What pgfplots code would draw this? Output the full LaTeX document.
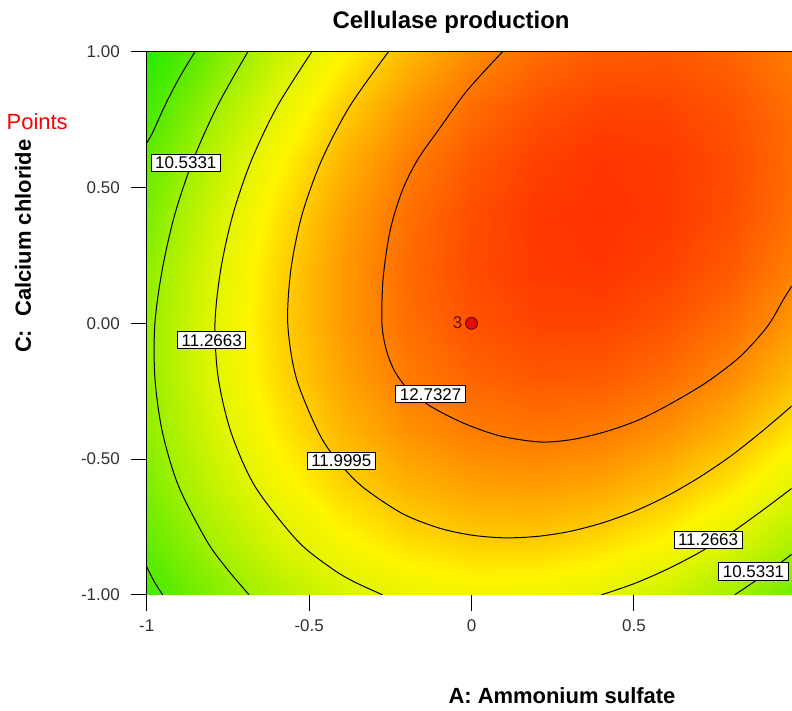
\documentclass[border=0pt]{standalone}
\usepackage{pgfplots}
\pgfplotsset{compat=1.18}
\usepackage{fontspec}
\setmainfont{Liberation Sans}
\definecolor{ptred}{RGB}{225,15,15}
\definecolor{ptdark}{RGB}{110,10,10}
\definecolor{tickgray}{RGB}{50,50,50}

\begin{document}
\begin{tikzpicture}
\begin{axis}[
    scale only axis,
    width=323pt, height=272pt,
    xmin=-1, xmax=0.985,
    ymin=-1, ymax=1,
    axis x line=box, axis y line=left,
    axis line style={-, line width=0.5pt},
    xtick={-1,-0.5,0,0.5},
    xticklabels={-1,-0.5,0,0.5},
    ytick={-1,-0.5,0,0.5,1},
    yticklabels={-1.00,-0.50,0.00,0.50,1.00},
    xtick pos=bottom, ytick pos=left,
    tick align=outside,
    major tick length=8pt,
    tick style={black, line width=0.5pt},
    tick label style={font=\fontsize{8.5}{10}\selectfont, text=tickgray},
    xticklabel style={yshift=-1pt},
    yticklabel style={xshift=-2pt},
    every axis title shift=0pt,
    title={Cellulase production},
    title style={font=\bfseries\fontsize{12}{14}\selectfont, at={(rel axis cs:0.472,1.055)}, anchor=center},
    xlabel={A: Ammonium sulfate},
    xlabel style={font=\bfseries\fontsize{11}{13}\selectfont, at={(rel axis cs:0.644,-0.186)}, anchor=center},
    ylabel={C:\hspace{0.6em}Calcium chloride},
    ylabel style={font=\bfseries\fontsize{11}{13}\selectfont, at={(rel axis cs:-0.192,0.642)}, anchor=center},
    colormap={de}{rgb255(0cm)=(30,235,0) rgb255(0.8cm)=(90,235,0) rgb255(1.5cm)=(160,240,0)
        rgb255(2.2cm)=(225,245,0) rgb255(2.6cm)=(255,245,0) rgb255(3cm)=(255,200,0)
        rgb255(3.7cm)=(255,125,0) rgb255(4.45cm)=(255,45,0)},
    point meta min=9, point meta max=13.45,
    clip mode=individual,
]
% response surface (x y z)
\addplot[surf, shader=interp, mesh/rows=11, mesh/cols=11, point meta=explicit]
  table[meta=z] {
x y z
-1 -1 9.55
-0.8 -1 10.20
-0.6 -1 10.71
-0.4 -1 11.09
-0.2 -1 11.34
0 -1 11.45
0.2 -1 11.43
0.4 -1 11.27
0.6 -1 10.98
0.8 -1 10.55
1 -1 9.99

-1 -0.8 9.90
-0.8 -0.8 10.58
-0.6 -0.8 11.12
-0.4 -0.8 11.53
-0.2 -0.8 11.81
0 -0.8 11.95
0.2 -0.8 11.96
0.4 -0.8 11.84
0.6 -0.8 11.58
0.8 -0.8 11.18
1 -0.8 10.65

-1 -0.6 10.16
-0.8 -0.6 10.87
-0.6 -0.6 11.45
-0.4 -0.6 11.89
-0.2 -0.6 12.20
0 -0.6 12.37
0.2 -0.6 12.41
0.4 -0.6 12.32
0.6 -0.6 12.09
0.8 -0.6 11.73
1 -0.6 11.23

-1 -0.4 10.33
-0.8 -0.4 11.07
-0.6 -0.4 11.68
-0.4 -0.4 12.16
-0.2 -0.4 12.50
0 -0.4 12.70
0.2 -0.4 12.77
0.4 -0.4 12.71
0.6 -0.4 12.51
0.8 -0.4 12.18
1 -0.4 11.72

-1 -0.2 10.41
-0.8 -0.2 11.19
-0.6 -0.2 11.83
-0.4 -0.2 12.33
-0.2 -0.2 12.71
0 -0.2 12.94
0.2 -0.2 13.05
0.4 -0.2 13.02
0.6 -0.2 12.85
0.8 -0.2 12.55
1 -0.2 12.12

-1 0 10.41
-0.8 0 11.22
-0.6 0 11.89
-0.4 0 12.43
-0.2 0 12.83
0 0 13.10
0.2 0 13.24
0.4 0 13.24
0.6 0 13.10
0.8 0 12.83
1 0 12.43

-1 0.2 10.32
-0.8 0.2 11.16
-0.6 0.2 11.86
-0.4 0.2 12.43
-0.2 0.2 12.87
0 0.2 13.17
0.2 0.2 13.33
0.4 0.2 13.37
0.6 0.2 13.26
0.8 0.2 13.03
1 0.2 12.66

-1 0.4 10.14
-0.8 0.4 11.01
-0.6 0.4 11.75
-0.4 0.4 12.35
-0.2 0.4 12.82
0 0.4 13.15
0.2 0.4 13.35
0.4 0.4 13.41
0.6 0.4 13.34
0.8 0.4 13.14
1 0.4 12.80

-1 0.6 9.88
-0.8 0.6 10.78
-0.6 0.6 11.55
-0.4 0.6 12.18
-0.2 0.6 12.68
0 0.6 13.04
0.2 0.6 13.27
0.4 0.6 13.37
0.6 0.6 13.33
0.8 0.6 13.16
1 0.6 12.85

-1 0.8 9.53
-0.8 0.8 10.46
-0.6 0.8 11.26
-0.4 0.8 11.92
-0.2 0.8 12.45
0 0.8 12.85
0.2 0.8 13.11
0.4 0.8 13.24
0.6 0.8 13.23
0.8 0.8 13.09
1 0.8 12.81

-1 1 9.09
-0.8 1 10.06
-0.6 1 10.89
-0.4 1 11.58
-0.2 1 12.14
0 1 12.57
0.2 1 12.86
0.4 1 13.02
0.6 1 13.05
0.8 1 12.94
1 1 12.69
};

% contour lines
\tikzset{cline/.style={black, line width=0.5pt, smooth}}
% 9.7999
\addplot[cline] coordinates {(-0.852,1) (-0.902,0.9) (-0.945,0.8) (-0.983,0.7) (-1,0.665)};
\addplot[cline] coordinates {(-1,-0.897) (-0.978,-0.949) (-0.951,-1)};
% 10.5331
\addplot[cline] coordinates {(-0.689,1) (-0.783,0.8) (-0.858,0.6) (-0.914,0.4)
  (-0.952,0.2) (-0.975,0) (-0.975,-0.2) (-0.952,-0.4) (-0.902,-0.6)
  (-0.816,-0.8) (-0.756,-0.9) (-0.685,-1)};
\addplot[cline] coordinates {(0.81,-1) (0.9,-0.927) (1,-0.838)};
% 11.2663
\addplot[cline] coordinates {(-0.492,1) (-0.598,0.8) (-0.678,0.6) (-0.735,0.4)
  (-0.772,0.2) (-0.790,0) (-0.780,-0.2) (-0.741,-0.4) (-0.667,-0.6)
  (-0.537,-0.8) (-0.434,-0.9) (-0.365,-0.95) (-0.274,-1)};
\addplot[cline] coordinates {(0.4,-1) (0.5,-0.959) (0.6,-0.907) (0.7,-0.845)
  (0.8,-0.771) (0.9,-0.685) (1,-0.595)};
% 11.9995
\addplot[cline] coordinates {(-0.256,1) (-0.375,0.8) (-0.462,0.6) (-0.522,0.4)
  (-0.556,0.2) (-0.566,0) (-0.540,-0.2) (-0.472,-0.4) (-0.417,-0.5)
  (-0.338,-0.6) (-0.214,-0.7) (-0.1,-0.754) (0,-0.78) (0.1,-0.79) (0.2,-0.785)
  (0.3,-0.767) (0.4,-0.736) (0.5,-0.693) (0.6,-0.637) (0.7,-0.568)
  (0.8,-0.487) (0.9,-0.392) (0.99,-0.30)};
% 12.7327
\addplot[cline] coordinates {(0.095,1) (-0.012,0.86) (-0.095,0.724) (-0.166,0.603)
  (-0.213,0.49) (-0.25,0.346) (-0.272,0.17) (-0.276,0) (-0.262,-0.1)
  (-0.235,-0.18) (-0.19,-0.25) (-0.12,-0.31) (-0.02,-0.37) (0.089,-0.415)
  (0.212,-0.437) (0.314,-0.427) (0.418,-0.397) (0.52,-0.353) (0.622,-0.29)
  (0.726,-0.215) (0.828,-0.121) (0.911,-0.011) (0.96,0.088) (0.99,0.145)};

% design point
\addplot[only marks, mark=*, mark size=3pt, mark options={fill=ptred, draw=ptdark, line width=0.5pt}]
  coordinates {(0,0)};
\node[text=ptdark, font=\fontsize{8.5}{10}\selectfont] at (axis cs:-0.043,0.004) {3};

% contour level labels
\tikzset{lvl/.style={draw=black, line width=0.5pt, fill=white, inner xsep=2pt, inner ysep=1.3pt,
  font=\fontsize{8.5}{10}\selectfont}}
\node[lvl] at (axis cs:-0.880,0.592) {10.5331};
\node[lvl] at (axis cs:-0.800,-0.0625) {11.2663};
\node[lvl] at (axis cs:-0.126,-0.261) {12.7327};
\node[lvl] at (axis cs:-0.401,-0.506) {11.9995};
\node[lvl] at (axis cs:0.728,-0.798) {11.2663};
\node[lvl] at (axis cs:0.868,-0.914) {10.5331};

\node[text=red, font=\fontsize{11}{13}\selectfont] at (rel axis cs:-0.170,0.871) {Points};

% page extent
\path (rel axis cs:-0.226,1.0956) (rel axis cs:1,-0.2096);
\end{axis}
\end{tikzpicture}
\end{document}
